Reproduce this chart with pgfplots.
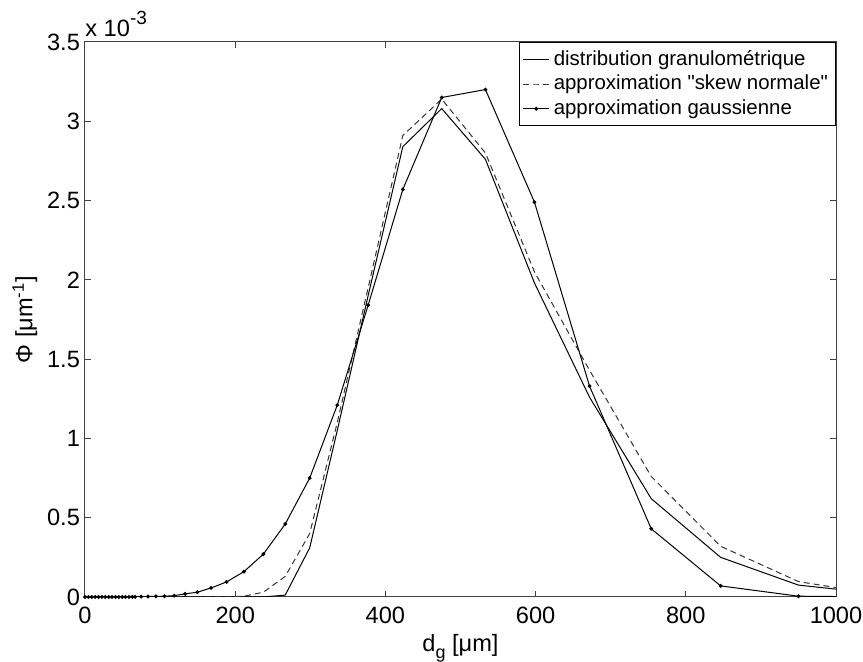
\documentclass[border=0pt]{standalone}
\usepackage{pgfplots}
\pgfplotsset{compat=1.18}
\usepackage{fontspec}
\setmainfont{Liberation Sans}
\newfontfamily\qf{Liberation Sans}[Ligatures=ResetAll]
\begin{document}
\begin{tikzpicture}
\begin{axis}[
  scale only axis, width=375.5pt, height=277.5pt,
  xmin=0, xmax=1000, ymin=0, ymax=3.5,
  xtick={0,200,400,600,800,1000},
  ytick={0,0.5,1,1.5,2,2.5,3,3.5},
  tick align=inside, major tick length=3pt,
  axis line style={black!75, line width=0.5pt},
  every tick/.style={black!75, line width=0.5pt},
  /pgf/number format/assume math mode=true,
  /pgf/number format/set thousands separator={},
  tick label style={font=\fontsize{11.8}{13}\selectfont},
  xticklabel style={yshift=-1.5pt},
  yticklabel style={xshift=1pt},
  xlabel={d\raisebox{-0.55ex}{\fontsize{9}{9}\selectfont g} [μm]},
  ylabel={Φ [μm\textsuperscript{-1}]},
  label style={font=\fontsize{11.8}{13}\selectfont},
  xlabel style={yshift=1.5pt},
  ylabel style={yshift=-2pt},
  legend style={at={(1,1)}, anchor=north east, draw=black, line width=0.5pt,
    font=\fontsize{10.2}{11.75}\selectfont, inner sep=1.8pt, row sep=-0.5pt},
  legend cell align=left,
  legend image code/.code={\draw[mark repeat=2,mark phase=2,#1] plot coordinates {(0pt,0pt) (6.5pt,0pt) (13pt,0pt)};},
]
\addplot[black, line width=0.5pt] table {
x y
0 0
30 0
60 0
94.3 0
133.3 0
188.5 0
237.5 0
266.6 0.012
299.2 0.31
335.9 1.05
377.0 1.90
423.2 2.84
475.0 3.08
533.2 2.76
598.5 1.98
671.8 1.26
754.0 0.62
846.4 0.25
950.0 0.075
1066 0.016
};
\addlegendentry{distribution granulométrique}
\addplot[black!80, line width=0.5pt, dash pattern=on 3pt off 2pt] table {
x y
0 0
60 0
133.3 0
188.5 0
211.6 0.005
237.5 0.03
266.6 0.13
299.2 0.40
335.9 1.10
377.0 1.95
423.2 2.91
475.0 3.14
533.2 2.80
598.5 2.05
671.8 1.43
754.0 0.76
846.4 0.32
950.0 0.097
1066 0.01
};
\addlegendentry{approximation {\qf "}skew normale{\qf "}}
\addplot[black, line width=0.5pt, mark=*, mark size=0.7pt] table {
x y
0 0
4.5 0
9 0
13.5 0
18 0
22.5 0
27 0
31.5 0
36 0
40.5 0
45 0
49.5 0
54 0
58.5 0
63 0.001
66.7 0.001
74.8 0.002
84.0 0.003
94.3 0.004
105.8 0.005
118.7 0.008
133.3 0.02
149.6 0.03
167.9 0.057
188.5 0.095
211.6 0.16
237.5 0.27
266.6 0.46
299.2 0.75
335.9 1.21
377.0 1.84
423.2 2.57
475.0 3.15
533.2 3.20
598.5 2.49
671.8 1.33
754.0 0.43
846.4 0.07
950.0 0.005
1066 0
};
\addlegendentry{approximation gaussienne}
\end{axis}
\node[anchor=base west, inner sep=0pt, font=\fontsize{11.8}{13}\selectfont] at ([yshift=2.5pt]current axis.north west) {x 10\raisebox{1.0ex}{\fontsize{9.5}{10}\selectfont -3}};
\pgfresetboundingbox
\path ([shift={(-42.5pt,-32.5pt)}]current axis.south west) rectangle ([shift={(13.5pt,21pt)}]current axis.north east);
\end{tikzpicture}
\end{document}
